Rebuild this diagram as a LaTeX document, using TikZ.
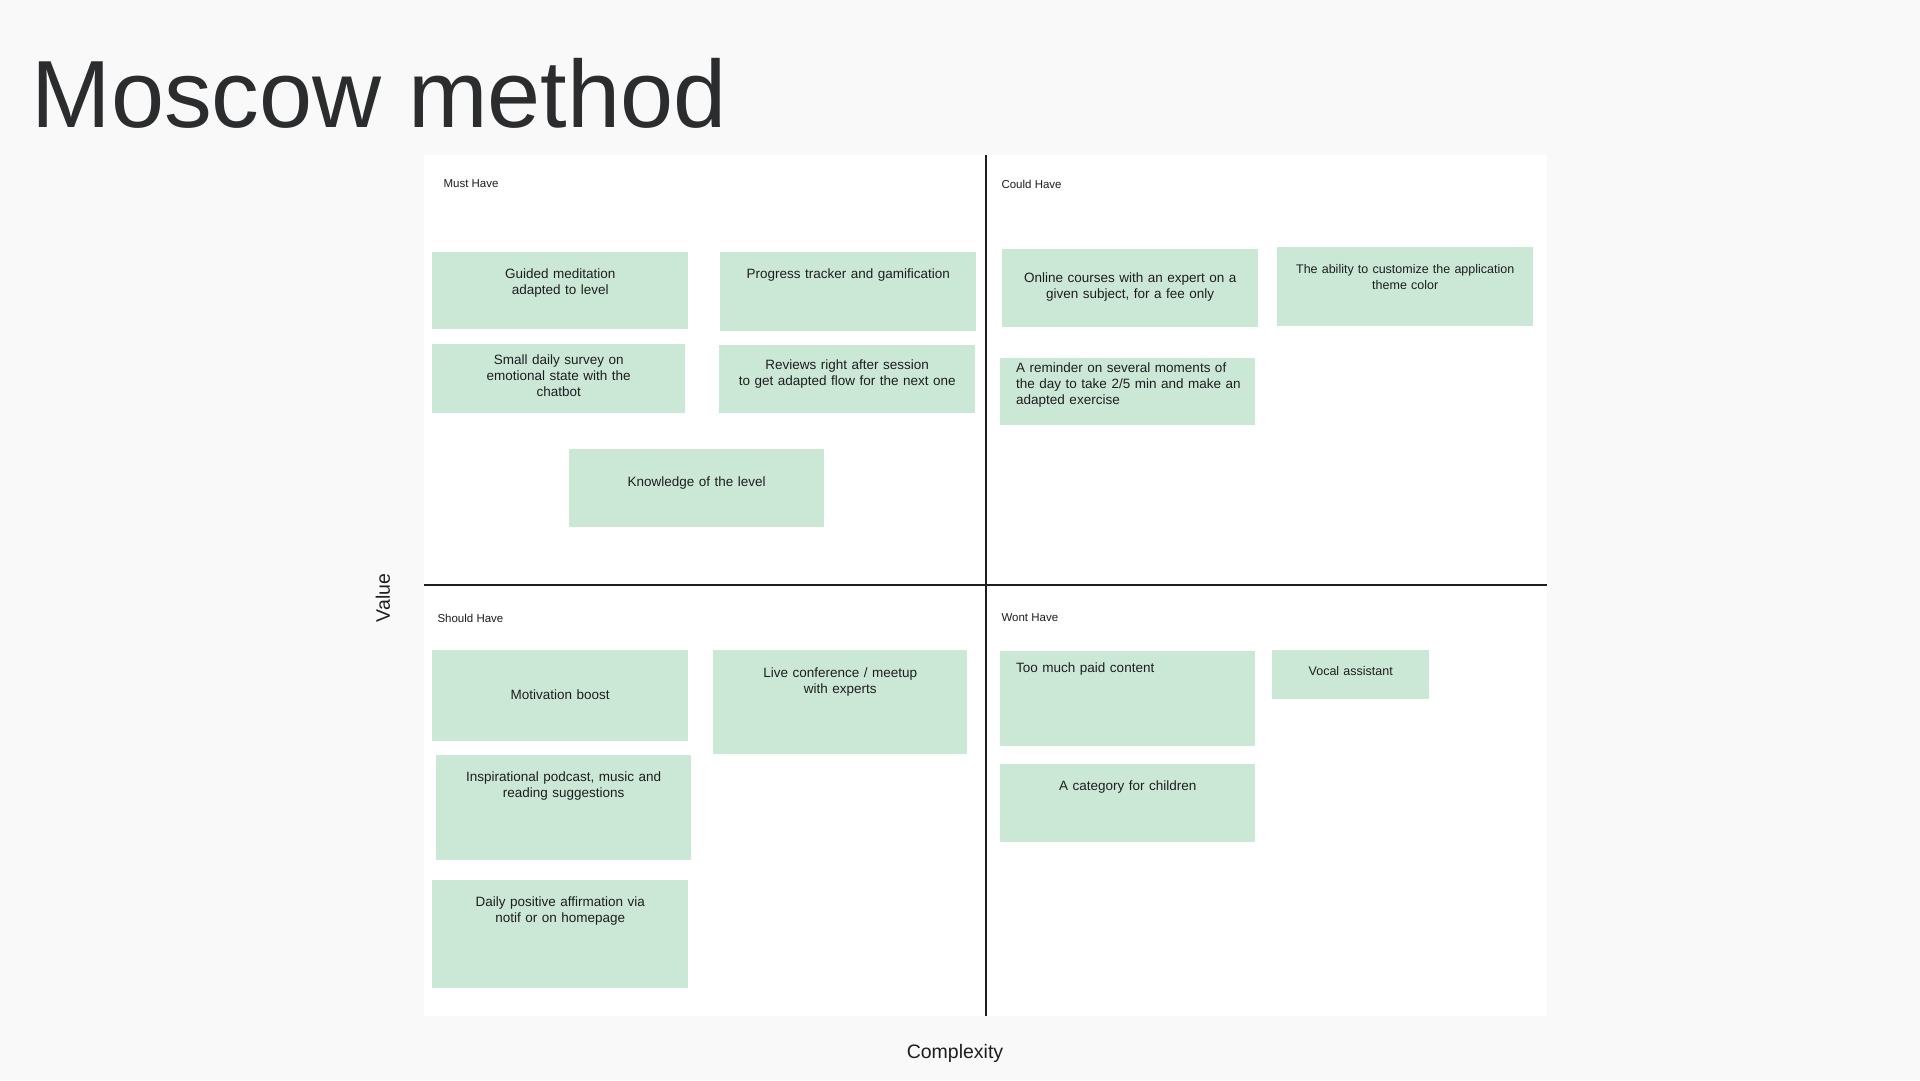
\documentclass[tikz,border=0pt]{standalone}
\usepackage{fontspec}
\setmainfont{Liberation Sans}
\usetikzlibrary{positioning}
\definecolor{pagegray}{HTML}{F9F9F9}
\definecolor{cardgreen}{HTML}{CBE8D7}
\definecolor{inkdark}{HTML}{1E1E1E}
\definecolor{titlegray}{HTML}{2B2C2E}

\begin{document}
\begin{tikzpicture}[x=1pt, y=-1pt,
  card/.style={fill=cardgreen, inner sep=0pt, anchor=north west, align=center,
    text=inkdark, font=\fontsize{13.5}{16}\selectfont},
  cardleft/.style={card, align=left, inner xsep=16pt},
  quadlabel/.style={anchor=west, text=inkdark, font=\fontsize{11.5}{13}\selectfont},
  axislabel/.style={text=inkdark, font=\fontsize{19.5}{22}\selectfont}]
  % Page and board
  \fill[pagegray] (0,0) rectangle (1920,1080);
  \fill[white] (424,155) rectangle (1547,1016);
  \node[anchor=base west, text=titlegray, font=\fontsize{95.5}{100}\selectfont] (title) at (28,127) {Moscow method};
  % Quadrant lines
  \draw[line width=1.3pt, inkdark] (986,155) -- (986,1016);
  \draw[line width=1.3pt, inkdark] (424,585) -- (1547,585);
  % Axis labels
  \node[axislabel, rotate=90] (value) at (383,598) {Value};
  \node[axislabel] (complexity) at (955,1053) {Complexity};
  % Quadrant titles
  \node[quadlabel] (must) at (440,184) {Must Have};
  \node[quadlabel] (could) at (998,184) {Could Have};
  \node[quadlabel] (should) at (434,618) {Should Have};
  \node[quadlabel] (wont) at (998,618) {Wont Have};
  % Must Have
  \node[card, text width=256pt, text height=26pt, text depth=51pt] (guided) at (432,252) {Guided meditation\\adapted to level};
  \node[card, text width=256pt, text height=26pt, text depth=53pt] (tracker) at (720,252) {Progress tracker and gamification};
  \node[card, text width=253pt, text height=20pt, text depth=49pt] (survey) at (432,344) {Small daily survey on\\emotional state with the\\chatbot};
  \node[card, text width=256pt, text height=24pt, text depth=44pt] (reviews) at (719,345) {Reviews right after session\\to get adapted flow for the next one};
  \node[card, text width=255pt, text height=37pt, text depth=41pt] (knowledge) at (569,449) {Knowledge of the level};
  % Could Have
  \node[card, text width=256pt, text height=33pt, text depth=45pt] (courses) at (1002,249) {Online courses with an expert on a\\given subject, for a fee only};
  \node[card, text width=256pt, text height=26pt, text depth=53pt, font=\fontsize{12.5}{16}\selectfont] (themecolor) at (1277,247) {The ability to customize the application\\theme color};
  \node[cardleft, text width=223pt, text height=14pt, text depth=53pt] (reminder) at (1000,358) {A reminder on several moments of\\\mbox{the day to take 2/5 min and make an}\\adapted exercise};
  % Should Have
  \node[card, text width=256pt, text height=49pt, text depth=42pt] (motivation) at (432,650) {Motivation boost};
  \node[card, text width=254pt, text height=27pt, text depth=77pt] (conference) at (713,650) {Live conference / meetup\\with experts};
  \node[card, text width=255pt, text height=26pt, text depth=79pt] (podcast) at (436,755) {Inspirational podcast, music and\\reading suggestions};
  \node[card, text width=256pt, text height=26pt, text depth=82pt] (affirmation) at (432,880) {Daily positive affirmation via\\notif or on homepage};
  % Wont Have
  \node[cardleft, text width=223pt, text height=21pt, text depth=74pt] (paid) at (1000,651) {Too much paid content};
  \node[card, text width=157pt, text height=25pt, text depth=24pt, font=\fontsize{12.5}{16}\selectfont] (vocal) at (1272,650) {Vocal assistant};
  \node[card, text width=255pt, text height=26pt, text depth=52pt] (children) at (1000,764) {A category for children};
\end{tikzpicture}
\end{document}
